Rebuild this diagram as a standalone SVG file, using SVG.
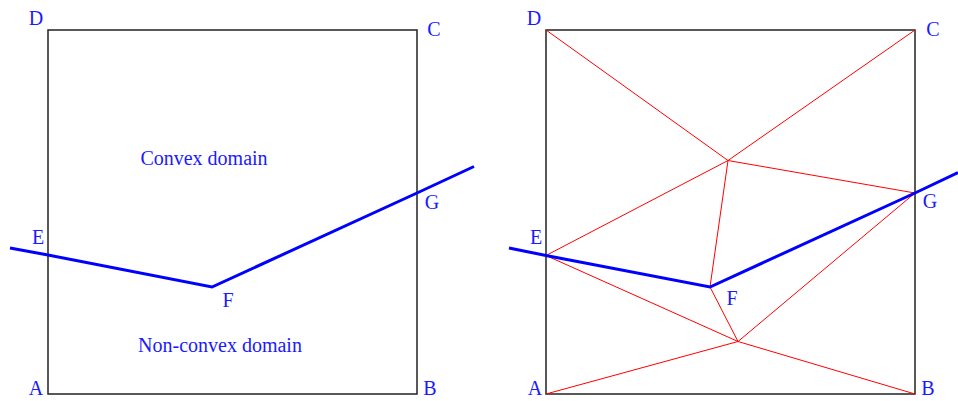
<svg xmlns="http://www.w3.org/2000/svg" width="958" height="401" viewBox="0 0 958 401">
<style>
.bg{fill:#fff}
.sq{fill:none;stroke:#222;stroke-width:1.5}
.cut{fill:none;stroke:#0000ff;stroke-width:3;stroke-linejoin:miter}
.mesh{fill:none;stroke:#ff0000;stroke-width:1}
.lbl{font-family:"Liberation Serif","Times New Roman",serif;font-size:20px;fill:#1a1aff}
</style>
<rect class="bg" width="958" height="401"/>
<g id="left">
  <g id="left-square"><rect class="sq" x="48" y="30" width="369" height="364"/></g>
  <g id="left-connectors"><polyline class="cut" points="10,248 48,255 212,287 417,193 474,166.5"/></g>
  <g id="left-labels">
    <text class="lbl" x="36" y="25" text-anchor="middle">D</text>
    <text class="lbl" x="434" y="36" text-anchor="middle">C</text>
    <text class="lbl" x="36" y="395" text-anchor="middle">A</text>
    <text class="lbl" x="430" y="395" text-anchor="middle">B</text>
    <text class="lbl" x="38" y="244" text-anchor="middle">E</text>
    <text class="lbl" x="228" y="307" text-anchor="middle">F</text>
    <text class="lbl" x="432" y="209" text-anchor="middle">G</text>
    <text class="lbl" x="204" y="165" text-anchor="middle">Convex domain</text>
    <text class="lbl" x="220" y="352" text-anchor="middle">Non-convex domain</text>
  </g>
</g>
<g id="right">
  <g id="right-square"><rect class="sq" x="546" y="30" width="369" height="364"/></g>
  <g id="right-connectors">
    <g class="mesh">
      <line x1="546" y1="30" x2="728" y2="160.5"/>
      <line x1="915" y1="30" x2="728" y2="160.5"/>
      <line x1="546" y1="255.5" x2="728" y2="160.5"/>
      <line x1="915" y1="193" x2="728" y2="160.5"/>
      <line x1="710" y1="287" x2="728" y2="160.5"/>
      <line x1="546" y1="255.5" x2="738" y2="341.5"/>
      <line x1="710" y1="287" x2="738" y2="341.5"/>
      <line x1="915" y1="193" x2="738" y2="341.5"/>
      <line x1="546" y1="394" x2="738" y2="341.5"/>
      <line x1="915" y1="394" x2="738" y2="341.5"/>
    </g>
    <polyline class="cut" points="509,248 546,255.5 710,287 915,193 958,172.5"/>
  </g>
  <g id="right-labels">
    <text class="lbl" x="534" y="25" text-anchor="middle">D</text>
    <text class="lbl" x="933" y="36" text-anchor="middle">C</text>
    <text class="lbl" x="535" y="395" text-anchor="middle">A</text>
    <text class="lbl" x="928" y="395" text-anchor="middle">B</text>
    <text class="lbl" x="536" y="244" text-anchor="middle">E</text>
    <text class="lbl" x="732" y="305" text-anchor="middle">F</text>
    <text class="lbl" x="930" y="208" text-anchor="middle">G</text>
  </g>
</g>
</svg>
